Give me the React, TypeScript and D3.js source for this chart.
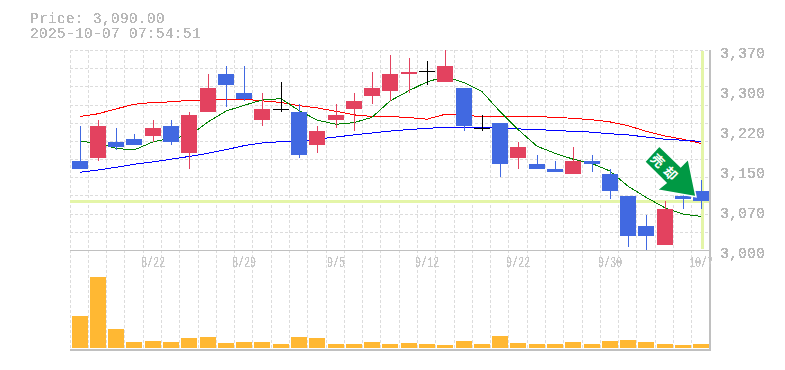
import React from "react";
import * as d3 from "d3";

const highs = [3230,3240,3225,3215,3240,3240,3255,3325,3340,3340,3290,3310,3270,3230,3270,3290,3330,3360,3355,3350,3370,3300,3250,3235,3200,3175,3165,3190,3175,3150,3100,3065,3090,3105,3130];
const lows = [3150,3165,3185,3195,3200,3195,3150,3255,3265,3275,3230,3255,3170,3180,3225,3220,3270,3275,3290,3305,3310,3220,3220,3135,3150,3150,3145,3140,3145,3095,3005,3000,3010,3075,3075];
const opens = [3165,3170,3200,3205,3210,3230,3180,3255,3325,3290,3240,3260,3255,3195,3240,3260,3285,3295,3325,3330,3310,3300,3225,3235,3170,3160,3150,3140,3165,3140,3100,3045,3010,3100,3110];
const closes = [3150,3230,3190,3195,3225,3200,3250,3300,3305,3280,3260,3260,3175,3220,3250,3275,3300,3325,3330,3330,3340,3230,3225,3160,3190,3150,3145,3165,3160,3110,3025,3025,3075,3095,3090];
const volumes = [32,71,19,6,7,6,10,11,5,6,6,4,11,10,4,4,6,4,5,4,3,7,4,12,5,4,4,6,4,7,8,6,4,3,4];
const maGreen = [3201,3198,3188,3185,3200,3207,3211,3237,3257,3267.6,3277.5,3280,3258,3240.5,3232.5,3235.6,3245.5,3275.7,3294.8,3311,3320.7,3309.6,3293,3256,3223,3192,3179,3168,3160,3146,3118,3097.5,3078,3066.6,3062];
const maRed = [3247,3252,3261,3269.5,3273,3274,3277,3277.5,3278,3279,3276,3273,3267,3263,3256.6,3250,3247,3247,3245,3242,3251,3249,3247,3247,3247,3246.7,3245.5,3243.6,3241,3237,3230,3219.6,3211,3205,3197];
const maBlue = [3143.7,3148,3153,3158.5,3163,3168,3173,3179,3185.6,3193,3198,3200.5,3201.6,3205,3209,3213,3216.5,3220,3223,3225,3227,3227,3227,3226,3224,3223,3221,3219.6,3218,3215,3213,3209,3205,3203,3201];
const priceTicks = [3000,3074,3148,3222,3296,3370];
const dateLabels: [number,string][] = [[4,"8/22"],[9,"8/29"],[14,"9/5"],[19,"9/12"],[24,"9/22"],[29,"9/30"],[34,"10/7"]];
const lastPrice = 3090;
const title = "Price: 3,090.00";
const stamp = "2025-10-07 07:54:51";
const arrowLabel = "売却";

const L = 70, R = 710, T = 50, B = 250, VB = 348, VT = 277;
const RED = "#e3425f", BLUE = "#4169e1", GRID = "#dcdcdc", AXIS = "#c0c0c0", TXT = "#b8b8b8";
const MONO = "'Liberation Mono', monospace";

export default function App() {
  const n = opens.length;
  const band = d3.scaleLinear().domain([0, n]).range([L, R]);
  const cx = (i: number) => Math.floor(band(i)) + 10;
  const y = d3.scaleLinear().domain([3000, 3370]).range([B, T]);
  const v = d3.scaleLinear().domain([0, d3.max(volumes)!]).range([VB, VT]);
  const line = (a: number[]) =>
    d3.line<number>().x((_, i) => cx(i)).y((d) => y(d)).curve(d3.curveLinear)(a)!;
  const gridYs = d3.range(11).map((i) => Math.round(T + (i * (B - T)) / 11) + 0.5);
  const gridXs = d3.range(n).map((i) => Math.floor(band(i)) + 0.5);
  const arrow = [[659.3,146],[644.7,161.7],[666,183],[657.3,190],[696,196.7],[688.3,159],[680.7,166.7]];
  return (
    <svg width={785} height={370} style={{ position: "absolute", left: 0, top: 0, background: "#fff" }}>
      <defs>
        <filter id="alias" filterUnits="userSpaceOnUse" x={0} y={0} width={785} height={370}>
          <feComponentTransfer>
            <feFuncA type="discrete" tableValues="0 1 1" />
          </feComponentTransfer>
        </filter>
      </defs>
      <g filter="url(#alias)">
        <text x={30} y={22.5} fontFamily={MONO} fontSize={14.5} letterSpacing={0.3} fill={TXT}>{title}</text>
        <text x={30} y={38} fontFamily={MONO} fontSize={14.5} letterSpacing={0.3} fill={TXT}>{stamp}</text>
      </g>
      <g stroke={GRID} strokeWidth={1} strokeDasharray="3 2" shapeRendering="crispEdges">
        {gridYs.map((gy) => <line key={gy} x1={L} x2={R} y1={gy} y2={gy} />)}
        {gridXs.map((gx) => <line key={gx} x1={gx} x2={gx} y1={T} y2={349} />)}
      </g>
      <g shapeRendering="crispEdges">
        <line x1={L} x2={R} y1={y(lastPrice)} y2={y(lastPrice)} stroke="#e4f5a8" strokeWidth={3} />
        <line x1={cx(n - 1) + 1} x2={cx(n - 1) + 1} y1={T + 1} y2={B - 1} stroke="#e4f5a8" strokeWidth={3} />
        <line x1={L} x2={R + 1} y1={250.5} y2={250.5} stroke={AXIS} strokeWidth={1} />
        <line x1={L} x2={R + 1} y1={350} y2={350} stroke={AXIS} strokeWidth={2} />
        <line x1={R} x2={R} y1={T} y2={351} stroke={AXIS} strokeWidth={2} />
      </g>
      <g shapeRendering="crispEdges">
        {volumes.map((d, i) => (
          <rect key={i} x={cx(i) - 8} width={16} y={v(d)} height={VB - v(d)} fill="#ffb833" />
        ))}
      </g>
      <g fill="none" strokeWidth={1} shapeRendering="crispEdges">
        <path d={line(maRed)} stroke="#ff0000" />
        <path d={line(maBlue)} stroke="#0000ff" />
        <path d={line(maGreen)} stroke="#008000" />
      </g>
      <g shapeRendering="crispEdges">
        {opens.map((o, i) => {
          const c = closes[i];
          const col = c === o ? "#000000" : c > o ? RED : BLUE;
          const top = y(Math.max(o, c));
          const bot = y(Math.min(o, c));
          return (
            <g key={i}>
              <line x1={cx(i) + 0.5} x2={cx(i) + 0.5} y1={y(highs[i])} y2={y(lows[i])} stroke={col} />
              {c === o ? (
                <line x1={cx(i) - 8} x2={cx(i) + 8} y1={top} y2={top} stroke={col} />
              ) : (
                <rect x={cx(i) - 8} width={16} y={top} height={bot - top} fill={col} />
              )}
            </g>
          );
        })}
      </g>
      <polygon points={arrow.map((p) => p.join(",")).join(" ")} fill="#009944" stroke="#fff" strokeWidth={1.5} />
      <text x={0} y={0} transform="translate(666.3,168.3) rotate(45)" textAnchor="middle" dominantBaseline="central"
        fontFamily="'Noto Sans CJK JP'" fontWeight={700} fontSize={13} letterSpacing={5} fill="#fff">{arrowLabel}</text>
      <g fontFamily={MONO} fontSize={15} fill={TXT} filter="url(#alias)">
        {priceTicks.map((p) => (
          <text key={p} x={720} y={y(p) + 8}>{d3.format(",")(Math.round(p / 10) * 10)}</text>
        ))}
      </g>
      <g fontFamily={MONO} fontSize={14} fill="#c8c8c8" textAnchor="middle" filter="url(#alias)">
        {dateLabels.map(([i, s]) => (
          <text key={s} transform={`translate(${cx(i)},267) scale(0.72,1)`}>{s}</text>
        ))}
      </g>
    </svg>
  );
}
